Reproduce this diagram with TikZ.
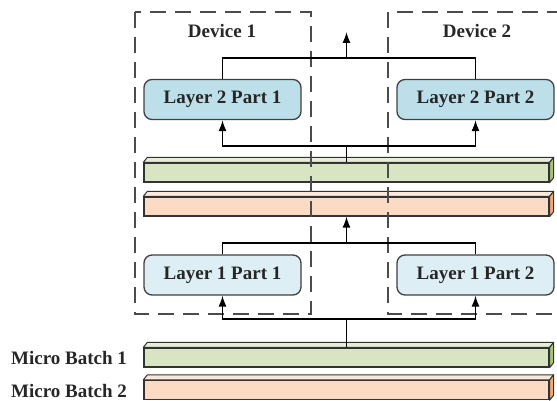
\documentclass[tikz,border=0pt]{standalone}
\usepackage{fontspec}
\setmainfont{Liberation Serif}
\usepackage{xcolor}
\usepackage{tikz}
\usetikzlibrary{arrows.meta}

\definecolor{partdark}{HTML}{BDDFEA}
\definecolor{partlight}{HTML}{DDEEF4}
\definecolor{grnfront}{HTML}{D9E5C2}
\definecolor{grntop}{HTML}{E6EED8}
\definecolor{grnside}{HTML}{A8C47A}
\definecolor{orgfront}{HTML}{FBDBC4}
\definecolor{orgtop}{HTML}{FDE8D9}
\definecolor{orgside}{HTML}{F1A97A}

\begin{document}
\begin{tikzpicture}[x=0.5pt,y=-0.5pt,
  font=\fontsize{9.5}{11}\selectfont\bfseries,
  layerbox/.style={draw=black!75, line width=0.65pt, rounded corners=4pt,
    minimum width=78.5pt, minimum height=20pt, inner sep=0pt, text=black!85},
  slab/.style={draw=black!80, line width=0.65pt, minimum width=202.5pt,
    minimum height=9.5pt, inner sep=0pt},
  link/.style={line width=0.7pt},
  device/.style={draw=black!70, line width=0.9pt, dash pattern=on 8pt off 4.5pt},
  >={Latex[length=5.5pt,width=4pt]}]
  \useasboundingbox (0,0) rectangle (557,401);

  % hidden states and micro batches
  \node[slab, fill=grnfront] (h1) at (346.5,172.5) {};
  \node[slab, fill=orgfront] (h2) at (346.5,206.5) {};
  \node[slab, fill=grnfront] (mb1) at (346.5,357.5) {};
  \node[slab, fill=orgfront] (mb2) at (346.5,390) {};
  \foreach \b/\t/\s in {h1/grntop/grnside, h2/orgtop/orgside,
                        mb1/grntop/grnside, mb2/orgtop/orgside} {
    \filldraw[fill=\t, draw=black!80, line width=0.5pt, line join=round]
      (\b.north west) -- ++(4,-5) -- ([shift={(4,-5)}]\b.north east)
      -- (\b.north east) -- cycle;
    \filldraw[fill=\s, draw=black!80, line width=0.5pt, line join=round]
      (\b.north east) -- ++(4,-5) -- ([shift={(4,-5)}]\b.south east)
      -- (\b.south east) -- cycle;
  }
  \node[anchor=east, text=black!85] (mb1lbl) at (134,357.5) {Micro Batch 1};
  \node[anchor=east, text=black!85] (mb2lbl) at (134,390.5) {Micro Batch 2};

  % layer parts
  \node[layerbox, fill=partdark] (l2p1) at (222.5,99.5) {Layer 2 Part 1};
  \node[layerbox, fill=partdark] (l2p2) at (475.5,99.5) {Layer 2 Part 2};
  \node[layerbox, fill=partlight] (l1p1) at (222.5,275) {Layer 1 Part 1};
  \node[layerbox, fill=partlight] (l1p2) at (475.5,275) {Layer 1 Part 2};

  % devices
  \draw[device] (135,12) rectangle (311,314);
  \draw[device] (563,12) -- (388,12) -- (388,314) -- (563,314);
  \node[text=black!85] (dev1) at (222,31) {Device 1};
  \node[text=black!85] (dev2) at (477,31) {Device 2};

  % data flow
  \coordinate (out) at (346.5,32);
  \coordinate (join2) at (346.5,58);
  \coordinate (fork2) at (346.5,146);
  \coordinate (join1) at (346.5,243);
  \coordinate (fork1) at (346.5,319);
  \draw[link] (l2p1.north) |- (join2) -| (l2p2.north);
  \draw[link,->] (join2) -- (out);
  \draw[link] (h1.north) -- (fork2);
  \draw[link,->] (fork2) -| (l2p1.south);
  \draw[link,->] (fork2) -| (l2p2.south);
  \draw[link] (l1p1.north) |- (join1) -| (l1p2.north);
  \draw[link,->] (join1) -- (h2.south);
  \draw[link] (mb1.north) -- (fork1);
  \draw[link,->] (fork1) -| (l1p1.south);
  \draw[link,->] (fork1) -| (l1p2.south);
\end{tikzpicture}
\end{document}
